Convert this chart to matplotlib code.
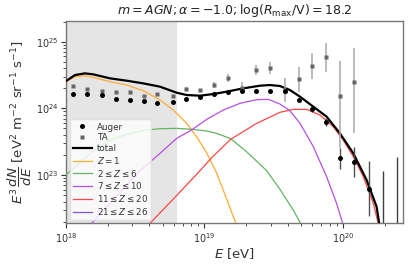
import numpy as np
import matplotlib
matplotlib.use("Agg")
import matplotlib.pyplot as plt
from matplotlib.lines import Line2D

# ---------------- data (log10 values) ----------------
auger_logE = [18.05, 18.15, 18.26, 18.36, 18.46, 18.56, 18.66, 18.77, 18.87, 18.97, 19.07,
              19.17, 19.27, 19.37, 19.47, 19.58, 19.68, 19.78, 19.88, 19.98, 20.08, 20.19]
auger_logF = [24.215, 24.215, 24.20, 24.135, 24.13, 24.11, 24.085, 24.095, 24.135, 24.175, 24.215,
              24.25, 24.26, 24.255, 24.255, 24.255, 24.12, 23.99, 23.795, 23.25, 23.19, 22.785]
auger_err_lo = [0.01, 0.01, 0.01, 0.01, 0.01, 0.01, 0.01, 0.01, 0.01, 0.01, 0.01,
                0.01, 0.01, 0.01, 0.01, 0.015, 0.02, 0.04, 0.06, 0.165, 0.215, 0.40]
auger_err_hi = [0.01, 0.01, 0.01, 0.01, 0.01, 0.01, 0.01, 0.01, 0.01, 0.01, 0.01,
                0.01, 0.01, 0.01, 0.01, 0.015, 0.02, 0.035, 0.055, 0.15, 0.225, 0.43]
auger_ul_logE = [20.29, 20.39]
auger_ul_logF = [23.065, 23.275]

ta_logE = [18.05, 18.15, 18.26, 18.36, 18.46, 18.56, 18.66, 18.77, 18.87, 18.97, 19.07,
           19.17, 19.27, 19.37, 19.47, 19.58, 19.68, 19.78, 19.88, 19.98, 20.08]
ta_logF = [24.34, 24.29, 24.265, 24.245, 24.25, 24.18, 24.215, 24.18, 24.295, 24.27, 24.355,
           24.46, 24.31, 24.57, 24.60, 24.265, 24.44, 24.635, 24.775, 24.185, 24.39]
ta_err_lo = [0.015, 0.015, 0.015, 0.015, 0.015, 0.015, 0.02, 0.02, 0.02, 0.025, 0.05,
             0.06, 0.05, 0.07, 0.09, 0.165, 0.19, 0.20, 0.225, 0.775, 0.765]
ta_err_hi = [0.015, 0.015, 0.015, 0.015, 0.015, 0.015, 0.02, 0.02, 0.02, 0.025, 0.045,
             0.05, 0.08, 0.08, 0.09, 0.185, 0.185, 0.19, 0.20, 0.525, 0.52]

total_logE = [18.0, 18.065, 18.137, 18.197, 18.318, 18.438, 18.558, 18.679, 18.799, 18.871,
              18.968, 19.064, 19.16, 19.28, 19.401, 19.473, 19.545, 19.617, 19.69, 19.786,
              19.882, 19.978, 20.075, 20.171, 20.243, 20.262, 20.30]
total_logF = [24.41, 24.5, 24.525, 24.51, 24.45, 24.415, 24.375, 24.325, 24.235, 24.2,
              24.19, 24.215, 24.25, 24.3, 24.34, 24.35, 24.335, 24.275, 24.175, 24.025,
              23.875, 23.625, 23.325, 22.925, 22.525, 22.275, 21.9]

z1_logE = [18.0, 18.065, 18.137, 18.197, 18.318, 18.438, 18.558, 18.679, 18.775, 18.871,
           18.943, 19.016, 19.088, 19.16, 19.227, 19.26]
z1_logF = [24.40, 24.475, 24.49, 24.465, 24.40, 24.35, 24.265, 24.125, 23.975, 23.775,
           23.575, 23.33, 23.03, 22.64, 22.275, 22.05]

z2_6_logE = [18.0, 18.101, 18.197, 18.318, 18.438, 18.582, 18.679, 18.799, 18.919, 19.016,
             19.088, 19.189, 19.304, 19.449, 19.545, 19.641, 19.694, 19.73]
z2_6_logF = [23.0, 23.185, 23.365, 23.525, 23.61, 23.675, 23.695, 23.70, 23.685, 23.66,
             23.625, 23.545, 23.35, 23.065, 22.785, 22.475, 22.275, 22.05]

z7_10_logE = [18.15, 18.185, 18.318, 18.438, 18.534, 18.679, 18.799, 18.907, 19.016, 19.136,
              19.256, 19.377, 19.461, 19.545, 19.617, 19.69, 19.786, 19.882, 19.954, 19.998, 20.03]
z7_10_logF = [22.1, 22.275, 22.575, 22.85, 23.065, 23.325, 23.55, 23.675, 23.835, 23.975,
              24.075, 24.13, 24.135, 24.065, 23.965, 23.775, 23.425, 22.975, 22.575, 22.275, 22.05]

z11_20_logE = [18.57, 18.606, 18.775, 18.968, 19.052, 19.189, 19.377, 19.545, 19.641, 19.738,
               19.834, 19.93, 20.002, 20.075, 20.147, 20.219, 20.255, 20.29]
z11_20_logF = [22.1, 22.275, 22.64, 23.065, 23.26, 23.535, 23.775, 23.94, 23.985, 23.985,
               23.90, 23.725, 23.525, 23.275, 22.975, 22.575, 22.275, 21.9]

labels = ["Auger", "TA", "total", r"$Z = 1$", r"$2 \leq Z \leq 6$", r"$7 \leq Z \leq 10$",
          r"$11 \leq Z \leq 20$", r"$21 \leq Z \leq 26$"]

# ---------------- plotting ----------------
def lin(a):
    return 10.0 ** np.asarray(a, dtype=float)

plt.rcParams["font.family"] = ["DejaVu Sans"]
plt.rcParams["mathtext.fontset"] = "dejavusans"

fig = plt.figure(figsize=(4.16, 2.64), dpi=100)
ax = fig.add_axes([0.1587, 0.154, 0.9695 - 0.1587, 0.9216 - 0.154])
ax.set_xscale("log")
ax.set_yscale("log")

ax.axvspan(1e18, 10 ** 18.8, color="#e5e5e5", zorder=0, lw=0)

c_z1 = "#ffaa33"
c_z2 = "#62b562"
c_z7 = "#b64ee8"
c_z11 = "#ff4545"
c_z21 = "#7d55d0"

ax.plot(lin(z1_logE), lin(z1_logF), color=c_z1, lw=0.9, zorder=3)
ax.plot(lin(z2_6_logE), lin(z2_6_logF), color=c_z2, lw=0.9, zorder=3)
ax.plot(lin(z7_10_logE), lin(z7_10_logF), color=c_z7, lw=0.9, zorder=3)
ax.plot(lin(z11_20_logE), lin(z11_20_logF), color=c_z11, lw=0.9, zorder=3)
ax.plot(lin(total_logE), lin(total_logF), color="black", lw=1.6, zorder=4)

# TA
ta_E = lin(ta_logE)
ta_F = lin(ta_logF)
ta_yerr = [ta_F - lin(np.array(ta_logF) - np.array(ta_err_lo)),
           lin(np.array(ta_logF) + np.array(ta_err_hi)) - ta_F]
ax.errorbar(ta_E, ta_F, yerr=ta_yerr, fmt="none", ecolor="#a8a8a8", elinewidth=1.1, zorder=5)
ax.plot(ta_E, ta_F, ls="none", marker="s", ms=3.2, color="#666666", mec="none", zorder=6)

# Auger
au_E = lin(auger_logE)
au_F = lin(auger_logF)
au_yerr = [au_F - lin(np.array(auger_logF) - np.array(auger_err_lo)),
           lin(np.array(auger_logF) + np.array(auger_err_hi)) - au_F]
ax.errorbar(au_E, au_F, yerr=au_yerr, fmt="none", ecolor="#505050", elinewidth=1.0, zorder=5)
ax.vlines(lin(auger_ul_logE), 1e21, lin(auger_ul_logF), color="#404040", lw=1.0, zorder=5)
ax.plot(au_E, au_F, ls="none", marker="o", ms=3.6, color="black", mec="none", zorder=7)

ax.set_xlim(1e18, 10 ** 20.436)
ax.set_ylim(10 ** 22.275, 10 ** 25.315)

ax.set_title(r"$m = AGN; \alpha = -1.0; \log(R_{\mathrm{max}}/\mathrm{V}) = 18.2$",
             fontsize=9, pad=5, color="#222222")
ax.set_xlabel(r"$E$ [eV]", fontsize=9.5, color="#333333", labelpad=1)
ax.set_ylabel(r"$E^3\,\dfrac{dN}{dE}$ [eV$^2$ m$^{-2}$ sr$^{-1}$ s$^{-1}$]", fontsize=9.5,
              color="#333333", labelpad=1)

for s in ax.spines.values():
    s.set_color("#777777")
    s.set_linewidth(1.0)
ax.tick_params(which="both", direction="out", labelsize=7, colors="#333333", pad=2)
ax.tick_params(which="major", length=3.5, width=0.8)
ax.tick_params(which="minor", length=2, width=0.6)

handles = [
    Line2D([], [], ls="none", marker="o", ms=3.6, color="black", mec="none"),
    Line2D([], [], ls="none", marker="s", ms=3.2, color="#666666", mec="none"),
    Line2D([], [], color="black", lw=1.6),
    Line2D([], [], color=c_z1, lw=0.9),
    Line2D([], [], color=c_z2, lw=0.9),
    Line2D([], [], color=c_z7, lw=0.9),
    Line2D([], [], color=c_z11, lw=0.9),
    Line2D([], [], color=c_z21, lw=0.9),
]
leg = ax.legend(handles, labels, loc="lower left", fontsize=6.3, framealpha=0.8,
                edgecolor="#dddddd", fancybox=True, labelspacing=0.2, borderpad=0.35,
                handletextpad=0.6, handlelength=2.2, borderaxespad=0.4)
for t in leg.get_texts():
    t.set_color("#333333")
leg.set_zorder(10)

fig.savefig("out.png", dpi=100)
